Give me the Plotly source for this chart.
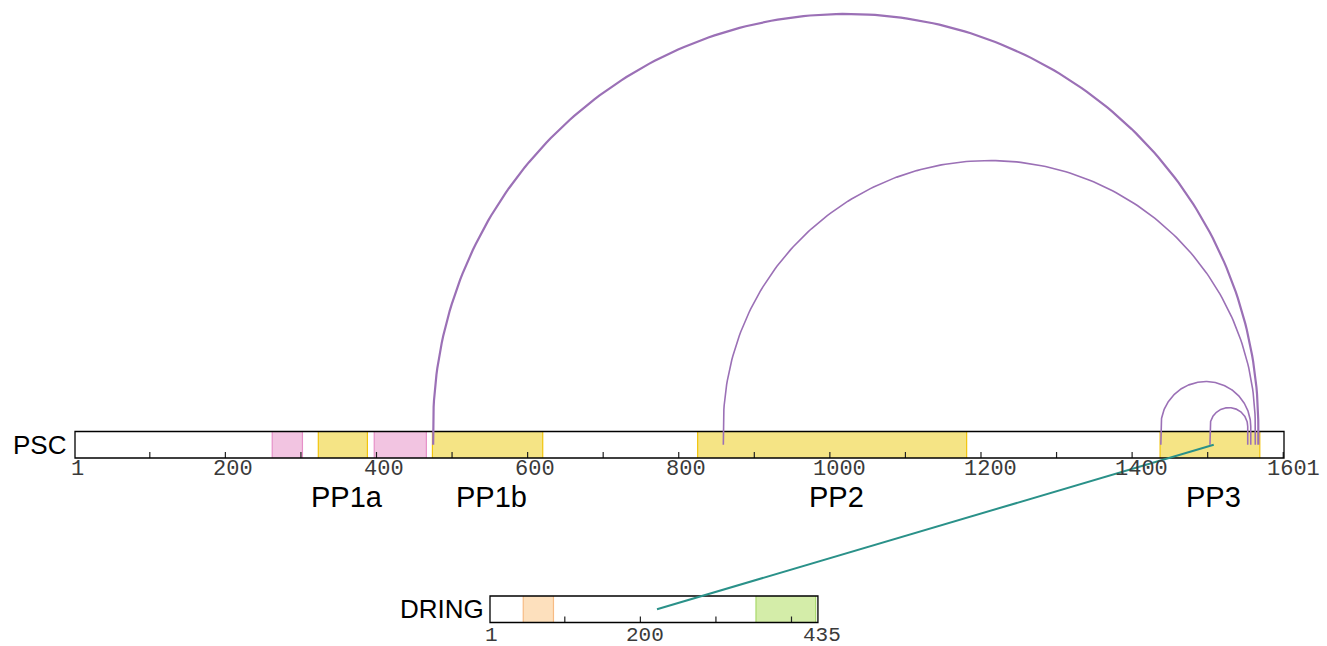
import numpy as np
import plotly.graph_objects as go

# ---------------- data ----------------
psc_len = 1601
dring_len = 435

psc_dom_start = [262, 323, 397, 474, 825, 1437]
psc_dom_end = [302, 388, 466, 620, 1181, 1569]
psc_dom_kind = ["pink", "yellow", "pink", "yellow", "yellow", "yellow"]
psc_dom_label = ["", "PP1a", "", "PP1b", "PP2", "PP3"]

dring_dom_start = [45, 353]
dring_dom_end = [85, 432]
dring_dom_kind = ["orange", "green"]

arc_start = [475, 859, 1438, 1503]
arc_end = [1567, 1563, 1557, 1553]
arc_width = [2.2, 1.6, 1.6, 1.6]

link_dring = [222]
link_psc = [1508]

psc_ticks = list(range(100, 1601, 100))
psc_tick_labels = [1, 200, 400, 600, 800, 1000, 1200, 1400, 1601]
dring_ticks = [100, 200, 300, 400]
dring_tick_labels = [1, 200, 435]

# ---------------- styling / layout ----------------
W, H = 1327, 646
K = (1284 - 75) / 1600.0          # pixels per residue
X0 = 1 - 75 / K
X1 = X0 + W / K
DRING_OFF = (490 - 75) / K

PSC_Y = (431.5, 458.0)
DRING_Y = (596.0, 622.5)
ARC_BASE = 426.5

fills = {"pink": ("#f2c4e1", "#e690c8"), "yellow": ("#f5e485", "#f2c40c"),
         "orange": ("#fde0bd", "#f7bb84"), "green": ("#d4eda9", "#a9d96c")}

shapes = []
annotations = []


def track(offset, length, yr, starts, ends, kinds, ticks):
    shapes.append(dict(type="rect", xref="x", yref="y", x0=1 + offset, x1=length + offset,
                       y0=yr[0], y1=yr[1], fillcolor="white", line=dict(width=0), layer="below"))
    for s, e, k in zip(starts, ends, kinds):
        fc, lc = fills[k]
        shapes.append(dict(type="rect", xref="x", yref="y", x0=s + offset, x1=e + offset,
                           y0=yr[0], y1=yr[1], fillcolor=fc, line=dict(width=0), layer="below"))
        for xe in (s, e):
            shapes.append(dict(type="line", xref="x", yref="y", x0=xe + offset, x1=xe + offset,
                               y0=yr[0], y1=yr[1], line=dict(color=lc, width=1.2), layer="below"))
    for t in ticks:
        shapes.append(dict(type="line", xref="x", yref="y", x0=t + offset, x1=t + offset,
                           y0=yr[1], y1=yr[1] - 6, line=dict(color="#222", width=1.2), layer="below"))
    shapes.append(dict(type="rect", xref="x", yref="y", x0=1 + offset, x1=length + offset,
                       y0=yr[0], y1=yr[1], fillcolor="rgba(0,0,0,0)",
                       line=dict(color="black", width=1.3), layer="below"))


track(0, psc_len, PSC_Y, psc_dom_start, psc_dom_end, psc_dom_kind, psc_ticks)
track(DRING_OFF, dring_len, DRING_Y, dring_dom_start, dring_dom_end, dring_dom_kind, dring_ticks)

mono = dict(family="Liberation Mono", size=22, color="#3a3a3a")
for lab in psc_tick_labels:
    annotations.append(dict(x=lab, y=469, xref="x", yref="y", text=str(lab), showarrow=False,
                            xanchor="center", yanchor="middle", xshift=2.4 * len(str(lab)),
                            font=mono))
mono2 = dict(family="Liberation Mono", size=21, color="#3a3a3a")
for lab in dring_tick_labels:
    annotations.append(dict(x=lab + DRING_OFF, y=635.5, xref="x", yref="y", text=str(lab),
                            showarrow=False, xanchor="center", yanchor="middle",
                            xshift=1.5 * len(str(lab)), font=mono2))

sans = "Liberation Sans, Arial"
annotations.append(dict(x=1, y=(PSC_Y[0] + PSC_Y[1]) / 2, xref="x", yref="y", text="PSC",
                        showarrow=False, xanchor="right", yanchor="middle", xshift=-7,
                        font=dict(family=sans, size=26, color="black")))
annotations.append(dict(x=1 + DRING_OFF, y=(DRING_Y[0] + DRING_Y[1]) / 2, xref="x", yref="y",
                        text="DRING", showarrow=False, xanchor="right", yanchor="middle", xshift=-4,
                        font=dict(family=sans, size=26, color="black")))
for s, e, lab in zip(psc_dom_start, psc_dom_end, psc_dom_label):
    if lab:
        annotations.append(dict(x=(s + e) / 2, y=497, xref="x", yref="y", text=lab, showarrow=False,
                                xanchor="center", yanchor="middle", xshift=4,
                                font=dict(family=sans, size=29, color="black")))

fig = go.Figure()
ymid_psc = (PSC_Y[0] + PSC_Y[1]) / 2
ymid_dr = (DRING_Y[0] + DRING_Y[1]) / 2
th = np.linspace(np.pi, 0, 200)
for a, b, w in zip(arc_start, arc_end, arc_width):
    c, r = (a + b) / 2, (b - a) / 2
    xs = np.concatenate([[a], c + r * np.cos(th), [b]])
    ys = np.concatenate([[ymid_psc], ARC_BASE - r * K * np.sin(th), [ymid_psc]])
    fig.add_trace(go.Scatter(x=xs, y=ys, mode="lines", line=dict(color="#9b70b6", width=w),
                             hoverinfo="skip", showlegend=False))

for d, p in zip(link_dring, link_psc):
    fig.add_trace(go.Scatter(x=[d + DRING_OFF, p], y=[ymid_dr, ymid_psc], mode="lines",
                             line=dict(color="#2a9189", width=2), hoverinfo="skip", showlegend=False))

fig.update_layout(
    width=W, height=H, margin=dict(l=0, r=0, t=0, b=0),
    paper_bgcolor="white", plot_bgcolor="white",
    xaxis=dict(range=[X0, X1], visible=False, fixedrange=True),
    yaxis=dict(range=[H, 0], visible=False, fixedrange=True),
    shapes=shapes, annotations=annotations, showlegend=False,
)
fig.write_html("out.html")
